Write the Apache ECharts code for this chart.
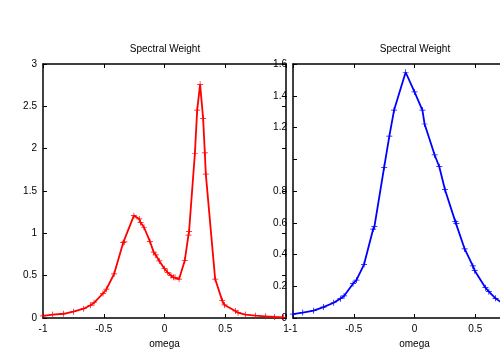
<!DOCTYPE html>
<html>
<head>
<meta charset="utf-8">
<script src="https://cdn.jsdelivr.net/npm/echarts@6/dist/echarts.min.js"></script>
<style>
  html, body { margin: 0; padding: 0; background: #fff; }
  #chart { width: 500px; height: 350px; }
</style>
</head>
<body>
<div id="chart"></div>
<script>
const omegaTicks = [-1, -0.5, 0, 0.5, 1];

// left panel (red)
const redOmega = [-1.0, -0.92, -0.83, -0.75, -0.665, -0.61, -0.58, -0.506, -0.478, -0.415,
    -0.34, -0.33, -0.252, -0.208, -0.197, -0.169, -0.12, -0.089, -0.072, -0.043,
    0.0, 0.026, 0.054, 0.073, 0.087, 0.12, 0.167, 0.197, 0.202, 0.25,
    0.269, 0.293, 0.318, 0.332, 0.34, 0.417, 0.475, 0.494, 0.583, 0.605,
    0.665, 0.748, 0.83, 0.905, 0.98];
const redWeight = [0.024, 0.04, 0.05, 0.075, 0.11, 0.15, 0.18, 0.29, 0.34, 0.52,
    0.89, 0.9, 1.209, 1.17, 1.127, 1.072, 0.906, 0.777, 0.745, 0.674,
    0.583, 0.54, 0.5, 0.48, 0.48, 0.46, 0.68, 0.98, 1.02, 1.94,
    2.455, 2.76, 2.356, 1.95, 1.70, 0.46, 0.205, 0.154, 0.083, 0.063,
    0.04, 0.027, 0.02, 0.012, 0.008];

// right panel (blue)
const blueOmega = [-1.0, -0.92, -0.83, -0.75, -0.665, -0.61, -0.58, -0.506, -0.478, -0.415,
    -0.34, -0.33, -0.25, -0.207, -0.168, -0.073, 0.0, 0.065, 0.083, 0.166,
    0.204, 0.251, 0.336, 0.345, 0.413, 0.48, 0.496, 0.584, 0.612, 0.667,
    0.748, 0.83, 0.905, 0.98];
const blueWeight = [0.025, 0.034, 0.046, 0.069, 0.096, 0.122, 0.139, 0.216, 0.239, 0.338,
    0.56, 0.575, 0.949, 1.146, 1.31, 1.548, 1.424, 1.31, 1.222, 1.027,
    0.953, 0.808, 0.607, 0.596, 0.435, 0.328, 0.298, 0.191, 0.166, 0.124,
    0.08, 0.055, 0.04, 0.03];

const font = 'Liberation Sans';
const plus = 'path://M-0.6,-5H0.6V-0.6H5V0.6H0.6V5H-0.6V0.6H-5V-0.6H-0.6Z';

const axisLine = {show: true, onZero: false, lineStyle: {color: '#000', width: 1.5}};
const tick = {show: true, inside: true, length: 4, lineStyle: {color: '#000', width: 1}};
const label = {color: '#000', fontFamily: font, fontSize: 10};

function xAxes(gridIndex) {
    return [{
        type: 'value', gridIndex: gridIndex, position: 'bottom',
        min: -1, max: 1, interval: 0.5,
        name: 'omega', nameLocation: 'middle', nameGap: 18,
        nameTextStyle: {color: '#000', fontFamily: font, fontSize: 10},
        axisLine: axisLine, axisTick: tick,
        axisLabel: Object.assign({margin: 6}, label),
        splitLine: {show: false}
    }, {
        type: 'value', gridIndex: gridIndex, position: 'top',
        min: -1, max: 1, interval: 0.5,
        axisLine: axisLine, axisTick: tick, axisLabel: {show: false},
        splitLine: {show: false}
    }];
}

function pairs(xs, ys) {
    return xs.map((x, i) => [x, ys[i]]);
}

const chart = echarts.init(document.getElementById('chart'), null, {renderer: 'canvas'});

chart.setOption({
    animation: false,
    backgroundColor: '#fff',
    title: [
        {text: 'Spectral Weight', left: 165, top: 44, textAlign: 'center', padding: 0,
            textStyle: {color: '#000', fontFamily: font, fontSize: 10, fontWeight: 'normal'}},
        {text: 'Spectral Weight', left: 415, top: 44, textAlign: 'center', padding: 0,
            textStyle: {color: '#000', fontFamily: font, fontSize: 10, fontWeight: 'normal'}}
    ],
    grid: [
        {left: 43, top: 64, width: 243, height: 254, outerBoundsMode: 'none', containLabel: false},
        {left: 293, top: 64, width: 243, height: 254, outerBoundsMode: 'none', containLabel: false}
    ],
    xAxis: xAxes(0).concat(xAxes(1)),
    yAxis: [
        {
            type: 'value', gridIndex: 0, position: 'left',
            min: 0, max: 3, interval: 0.5,
            axisLine: axisLine, axisTick: tick,
            axisLabel: Object.assign({margin: 6}, label),
            splitLine: {show: false}
        },
        {
            type: 'value', gridIndex: 0, position: 'right',
            min: 0, max: 3, interval: 0.5,
            axisLine: axisLine, axisTick: tick, axisLabel: {show: false},
            splitLine: {show: false}
        },
        {
            type: 'value', gridIndex: 1, position: 'left',
            min: 0, max: 1.6, interval: 0.2,
            axisLine: axisLine, axisTick: tick,
            // the "1" label is not drawn in the original
            axisLabel: Object.assign({margin: 6, formatter: v => (Math.abs(v - 1) < 1e-9 ? '' : +v.toFixed(1))}, label),
            splitLine: {show: false}
        }
    ],
    series: [
        {
            type: 'line', xAxisIndex: 0, yAxisIndex: 0,
            data: pairs(redOmega, redWeight),
            symbol: plus, symbolSize: 6, showSymbol: true,
            itemStyle: {color: '#ff0000'},
            lineStyle: {color: '#ff0000', width: 1.8}
        },
        {
            type: 'line', xAxisIndex: 2, yAxisIndex: 2,
            data: pairs(blueOmega, blueWeight),
            symbol: plus, symbolSize: 6, showSymbol: true,
            itemStyle: {color: '#0000ff'},
            lineStyle: {color: '#0000ff', width: 1.8}
        }
    ]
});
</script>
</body>
</html>
